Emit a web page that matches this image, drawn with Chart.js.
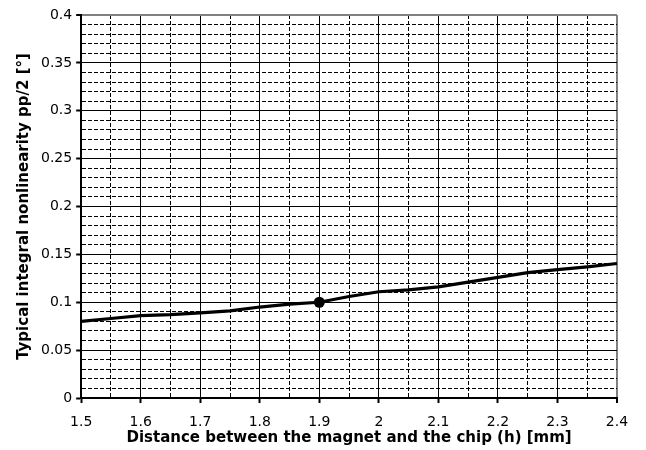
<!DOCTYPE html>
<html>
<head>
<meta charset="utf-8">
<script src="https://cdn.jsdelivr.net/npm/chart.js@4/dist/chart.umd.min.js"></script>
<style>
  html, body { margin: 0; padding: 0; background: #fff; }
  #wrap { width: 646px; height: 450px; }
</style>
</head>
<body>
<div id="wrap"><canvas id="nonlinChart"></canvas></div>
<script>
// distance h [mm] and nonlinearity pp/2 [deg]
var distances = [1.5, 1.55, 1.6, 1.65, 1.7, 1.75, 1.8, 1.85, 1.9, 1.95, 2.0, 2.05, 2.1, 2.15, 2.2, 2.25, 2.3, 2.35, 2.4, 2.415];
var nonlinearity = [0.080, 0.083, 0.086, 0.087, 0.089, 0.091, 0.095, 0.098, 0.100, 0.106, 0.111, 0.113, 0.116, 0.121, 0.126, 0.131, 0.134, 0.137, 0.1405, 0.142];

// the highlighted point
var markedDistance = [1.9];
var markedValue = [0.1];

var xMajorTicks = [1.5, 1.6, 1.7, 1.8, 1.9, 2.0, 2.1, 2.2, 2.3, 2.4];
var xTickLabels = ['1.5', '1.6', '1.7', '1.8', '1.9', '2', '2.1', '2.2', '2.3', '2.4'];
var yMajorTicks = [0, 0.05, 0.1, 0.15, 0.2, 0.25, 0.3, 0.35, 0.4];
var yTickLabels = ['0', '0.05', '0.1', '0.15', '0.2', '0.25', '0.3', '0.35', '0.4'];

var fontFamily = '"DejaVu Sans", "Liberation Sans", Arial, sans-serif';

function majorIndex(list, v) {
    for (var i = 0; i < list.length; i++) {
        if (Math.abs(list[i] - v) < 1e-6) return i;
    }
    return -1;
}

function gridFor(majors, edgeValue) {
    return {
        color: function (ctx) {
            if (ctx.tick && Math.abs(ctx.tick.value - edgeValue) < 1e-6) return '#808080';
            return '#000';
        },
        lineWidth: function (ctx) {
            if (ctx.tick && Math.abs(ctx.tick.value - edgeValue) < 1e-6) return 2;
            return 1;
        },
        tickLength: 5,
        tickWidth: 2,
        tickColor: function (ctx) {
            return ctx.tick && majorIndex(majors, ctx.tick.value) >= 0 ? '#000' : 'rgba(0,0,0,0)';
        }
    };
}

function borderFor(majors) {
    return {
        display: true,
        color: '#000',
        width: 2,
        dash: function (ctx) {
            if (!ctx.tick) return [];
            return majorIndex(majors, ctx.tick.value) >= 0 ? [] : [4, 2];
        }
    };
}

var ctx = document.getElementById('nonlinChart');
var pts = distances.map(function (d, i) { return { x: d, y: nonlinearity[i] }; });
var marked = markedDistance.map(function (d, i) { return { x: d, y: markedValue[i] }; });

new Chart(ctx, {
    type: 'line',
    data: {
        datasets: [{
            data: marked,
            showLine: false,
            pointRadius: 5.5,
            pointBackgroundColor: '#000',
            pointBorderColor: '#000',
            pointBorderWidth: 0
        }, {
            data: pts,
            borderColor: '#000',
            borderWidth: 3.2,
            pointRadius: 0,
            tension: 0,
            fill: false,
            clip: false
        }]
    },
    options: {
        responsive: true,
        maintainAspectRatio: false,
        animation: false,
        layout: { padding: { left: 15, right: 29, top: 15, bottom: 4 } },
        plugins: {
            legend: { display: false },
            tooltip: { enabled: false }
        },
        scales: {
            x: {
                type: 'linear',
                min: 1.5,
                max: 2.4,
                grid: gridFor(xMajorTicks, 2.4),
                border: borderFor(xMajorTicks),
                ticks: {
                    stepSize: 0.05,
                    autoSkip: false,
                    maxRotation: 0,
                    padding: 12,
                    color: '#000',
                    font: { family: fontFamily, size: 14, lineHeight: 1 },
                    callback: function (v) {
                        var i = majorIndex(xMajorTicks, v);
                        return i < 0 ? '' : xTickLabels[i];
                    }
                },
                title: {
                    display: true,
                    text: 'Distance between the magnet and the chip (h) [mm]',
                    color: '#000',
                    font: { family: fontFamily, size: 15, weight: 'bold', lineHeight: 1 },
                    padding: { top: -10, bottom: 0 }
                }
            },
            y: {
                min: 0,
                max: 0.4,
                grid: gridFor(yMajorTicks, 0.4),
                border: borderFor(yMajorTicks),
                ticks: {
                    stepSize: 0.01,
                    autoSkip: false,
                    padding: 4,
                    color: '#000',
                    font: { family: fontFamily, size: 14 },
                    callback: function (v) {
                        var i = majorIndex(yMajorTicks, v);
                        return i < 0 ? '' : yTickLabels[i];
                    }
                },
                title: {
                    display: true,
                    text: 'Typical integral nonlinearity pp/2 [°]',
                    color: '#000',
                    font: { family: fontFamily, size: 15, weight: 'bold' },
                    padding: { top: 0, bottom: 4 }
                }
            }
        }
    }
});
</script>
</body>
</html>
